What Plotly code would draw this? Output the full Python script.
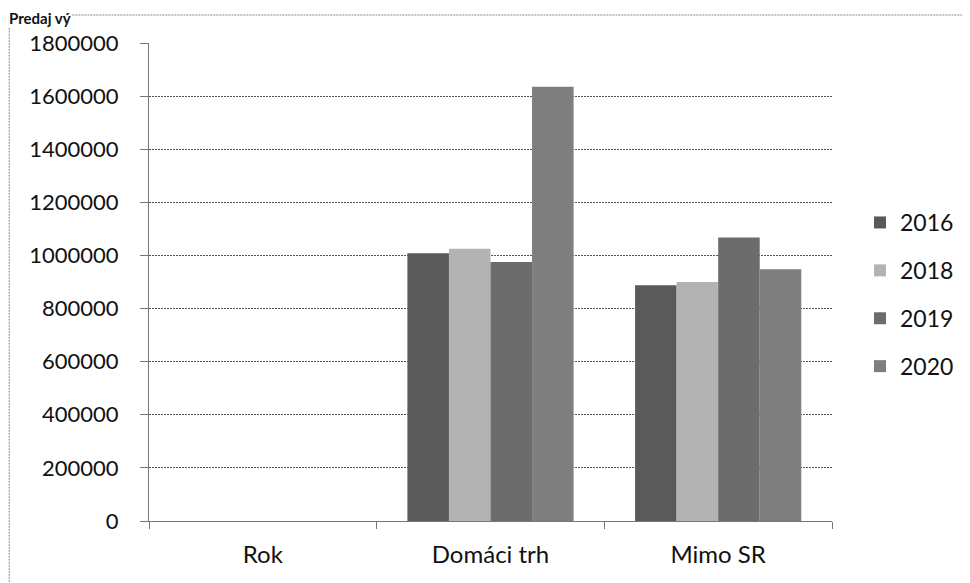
import plotly.graph_objects as go

categories = ["Rok", "Domáci trh", "Mimo SR"]
series_names = ["2016", "2018", "2019", "2020"]
v2016 = [0, 1008000, 888000]
v2018 = [0, 1025000, 900000]
v2019 = [0, 975000, 1068000]
v2020 = [0, 1635000, 948000]
series_values = [v2016, v2018, v2019, v2020]
colors = ["#5a5a5a", "#b3b3b3", "#6c6c6c", "#7e7e7e"]
y_ticks = [0, 200000, 400000, 600000, 800000, 1000000, 1200000, 1400000, 1600000, 1800000]
title_text = "Predaj vý"

FONT = "Lato"
OFF = 8  # page body margin
fig = go.Figure()
for name, vals, col in zip(series_names, series_values, colors):
    fig.add_trace(go.Bar(x=categories, y=vals, name=name, marker_color=col,
                         marker_line_width=0, legendgroup=name))

W, H = 962, 575
L, T = 149 - OFF, 43 - OFF
R = W - (833 - OFF)
B = H - (521 - OFF)
ph = H - T - B
pw = W - L - R


def px_x(sx):
    return (sx - OFF - L) / pw


def px_y(sy):
    return (H - B - (sy - OFF)) / ph


fig.update_layout(
    width=W, height=H,
    margin=dict(l=L, r=R, t=T, b=B),
    paper_bgcolor="white", plot_bgcolor="white",
    barmode="group", bargap=0.27, bargroupgap=0,
    font=dict(family=FONT, size=22, color="#111"),
    showlegend=True,
    legend=dict(x=px_x(860), xanchor="left", y=px_y(201), yanchor="top",
                font=dict(size=23, family=FONT), tracegroupgap=15,
                bgcolor="rgba(0,0,0,0)", itemclick=False),
    xaxis=dict(showline=True, linecolor="#777", linewidth=1, ticks="outside",
               tickson="boundaries", ticklen=7, tickcolor="#777",
               ticklabelstandoff=12,
               showgrid=False, tickfont=dict(size=24, family=FONT)),
    yaxis=dict(range=[0, 1800000], tickvals=y_ticks, ticktext=[str(v) for v in y_ticks],
               showline=True, linecolor="#777", linewidth=1, ticks="outside",
               ticklen=8, tickcolor="#777", ticklabelstandoff=17,
               showgrid=True, gridcolor="#555", griddash="2px,1px", gridwidth=1,
               zeroline=False, tickfont=dict(size=22, family=FONT)),
)

fig.add_shape(type="rect", xref="paper", yref="paper",
              x0=px_x(9), x1=px_x(967),
              y0=px_y(600), y1=px_y(15),
              line=dict(color="#888", width=1, dash="2px,1px"), fillcolor="rgba(0,0,0,0)",
              layer="below")

fig.add_annotation(text="<b>" + title_text + "</b>", xref="paper", yref="paper",
                   x=px_x(8), xanchor="left", y=px_y(8), yanchor="top",
                   showarrow=False, bgcolor="white", borderpad=0,
                   font=dict(size=15, family=FONT, color="#111"))

fig.write_html("out.html")
